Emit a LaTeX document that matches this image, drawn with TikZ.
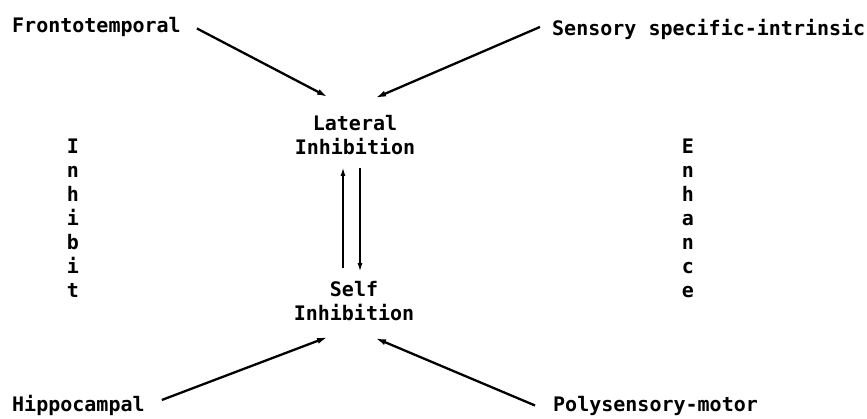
\documentclass[tikz,border=0pt]{standalone}
\usepackage{fontspec}
\setmonofont{DejaVu Sans Mono}
\usepackage{tikz}
\usetikzlibrary{arrows.meta}
\newcommand{\typedfont}{\fontsize{20}{24}\selectfont\ttfamily\bfseries}

\begin{document}
\begin{tikzpicture}[
  x=1pt, y=-1pt,
  source/.style={font=\typedfont, inner sep=0pt, anchor=base west},
  stage/.style={font=\typedfont, inner sep=0pt, align=center},
  sideword/.style={font=\typedfont, inner sep=0pt, align=center},
  feed/.style={-{Latex[open, length=11pt, width=6pt]}, line width=2.3pt},
  loopline/.style={-{Latex[open, length=9pt, width=5pt]}, line width=1.9pt}
]
  \useasboundingbox[fill=white] (0,0) rectangle (867,418);

  \node[source] (fronto) at (12,32) {Frontotemporal};
  \node[source] (sensory) at (552,35) {Sensory specific-intrinsic};
  \node[source] (hippo) at (12,411) {Hippocampal};
  \node[source] (poly) at (553,411) {Polysensory-motor};

  \node[stage] (lateral) at (355,135) {Lateral\\Inhibition};
  \node[stage] (self) at (354,301) {Self\\Inhibition};

  \node[sideword] (inhibit) at (73,218) {I\\n\\h\\i\\b\\i\\t};
  \node[sideword] (enhance) at (688,218) {E\\n\\h\\a\\n\\c\\e};

  % inputs converge on the two stages
  \draw[feed] ([xshift=16pt, yshift=-2pt]fronto.east) --
    ([xshift=-27pt, yshift=18pt]lateral.north);
  \draw[feed] ([xshift=-12pt, yshift=2pt]sensory.west) --
    ([xshift=20pt, yshift=17pt]lateral.north);
  \draw[feed] ([xshift=17pt, yshift=5pt]hippo.east) --
    ([xshift=-26pt, yshift=-16pt]self.south);
  \draw[feed] ([xshift=-18pt, yshift=0pt]poly.west) --
    ([xshift=21pt, yshift=-17pt]self.south);

  % two-way link between the stages
  \draw[loopline, shorten <=13pt, shorten >=12pt]
    ([xshift=-11pt]self.north) -- ([xshift=-12pt]lateral.south);
  \draw[loopline, shorten <=13pt, shorten >=9pt]
    ([xshift=5pt]lateral.south) -- ([xshift=6pt]self.north);
\end{tikzpicture}
\end{document}
